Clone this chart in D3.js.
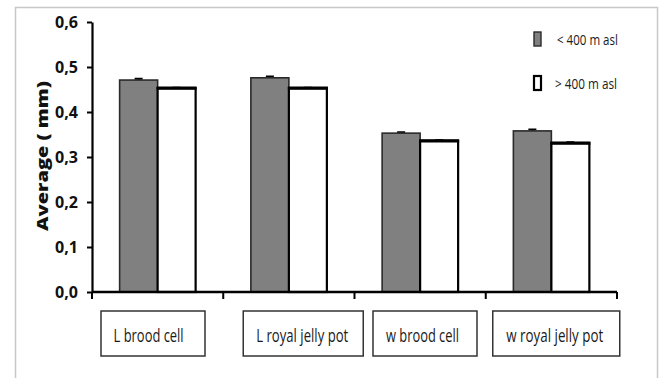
<!DOCTYPE html>
<html>
<head>
<meta charset="utf-8">
<script src="https://cdn.jsdelivr.net/npm/d3@7"></script>
<style>
  html, body { margin: 0; padding: 0; background: #fff; }
  svg { display: block; }
</style>
</head>
<body>
<div id="chart"></div>
<script>
// Cell measurements by altitude group
const categories = ["L brood cell", "L royal jelly pot", "w brood cell", "w royal jelly pot"];
const seriesNames = ["< 400 m asl", "> 400 m asl"];
const lowValues  = [0.471, 0.476, 0.353, 0.358];
const highValues = [0.453, 0.453, 0.336, 0.331];
const lowErrors  = [0.003, 0.003, 0.002, 0.003];
const highErrors = [0.001, 0.001, 0.001, 0.002];
const yTicks = [0, 0.1, 0.2, 0.3, 0.4, 0.5, 0.6];
const yTitle = "Average ( mm)";

const W = 661, H = 378;
const svg = d3.select("#chart").append("svg").attr("width", W).attr("height", H);

// squeeze a text node horizontally so it spans the given width
function fitWidth(sel, width, anchorX) {
  sel.each(function (d, i) {
    const t = d3.select(this);
    const w = typeof width === "function" ? width(d, i) : width;
    const ax = typeof anchorX === "function" ? anchorX(d, i) : anchorX;
    const natural = this.getComputedTextLength();
    const k = w / natural;
    const prev = t.attr("transform") || "";
    t.attr("transform", `${prev} translate(${ax},0) scale(${k},1) translate(${-ax},0)`);
  });
}

// outer frame
svg.append("rect").attr("x", 15.5).attr("y", 7.5).attr("width", 642).attr("height", 400)
  .attr("fill", "#fff").attr("stroke", "#c8c8c8").attr("stroke-width", 1.5);

const x0 = d3.scaleBand().domain(categories).range([92, 617]).paddingInner(0).paddingOuter(0);
const x1 = d3.scaleBand().domain(seriesNames).range([0, x0.bandwidth()]).paddingInner(0).paddingOuter(0.727);
const y = d3.scaleLinear().domain([0, 0.6]).range([292, 22]);

const rows = categories.map((c, i) => ({
  cat: c,
  vals: [
    { s: seriesNames[0], v: lowValues[i], e: lowErrors[i] },
    { s: seriesNames[1], v: highValues[i], e: highErrors[i] }
  ]
}));

const fills = { [seriesNames[0]]: "#808080", [seriesNames[1]]: "#ffffff" };
const strokes = { [seriesNames[0]]: "#2a2a2a", [seriesNames[1]]: "#000" };
const sw = { [seriesNames[0]]: 1.6, [seriesNames[1]]: 2.2 };

const groups = svg.append("g").selectAll("g").data(rows).join("g")
  .attr("transform", d => `translate(${x0(d.cat)},0)`);

// error caps
groups.selectAll("path.err").data(d => d.vals).join("path")
  .attr("class", "err")
  .attr("d", d => {
    const cx = x1(d.s) + x1.bandwidth() / 2;
    const yt = y(d.v + d.e);
    return `M${cx},${y(d.v)}V${yt}M${cx - 4},${yt}H${cx + 4}`;
  })
  .attr("stroke", "#000").attr("stroke-width", 2).attr("fill", "none");

groups.selectAll("rect").data(d => d.vals).join("rect")
  .attr("x", d => x1(d.s))
  .attr("y", d => y(d.v))
  .attr("width", x1.bandwidth())
  .attr("height", d => y(0) - y(d.v))
  .attr("fill", d => fills[d.s])
  .attr("stroke", d => strokes[d.s])
  .attr("stroke-width", d => sw[d.s]);

// thicker top edge on the open bars
groups.selectAll("line.top").data(d => d.vals.filter(v => v.s === seriesNames[1])).join("line")
  .attr("class", "top")
  .attr("x1", d => x1(d.s) - 1).attr("x2", d => x1(d.s) + x1.bandwidth() + 1)
  .attr("y1", d => y(d.v)).attr("y2", d => y(d.v))
  .attr("stroke", "#000").attr("stroke-width", 3.2);

// y axis
const yAxis = d3.axisLeft(y).tickValues(yTicks).tickSize(5).tickSizeOuter(0)
  .tickFormat(d => d3.format(".1f")(d).replace(".", ","));
const gy = svg.append("g").attr("transform", "translate(92,0)").call(yAxis);
gy.select(".domain").attr("stroke", "#000").attr("stroke-width", 2.2);
gy.selectAll(".tick line").attr("stroke", "#000").attr("stroke-width", 2);
gy.selectAll(".tick text")
  .attr("x", -14).attr("dy", "0.36em")
  .attr("font-family", "'Open Sans', sans-serif").attr("font-weight", 700)
  .attr("font-size", 16).attr("fill", "#111");
fitWidth(gy.selectAll(".tick text"), 23, -14);

// x axis with dividers between categories
const xEdges = categories.map(c => x0(c)).concat([x0.range()[1]]);
svg.append("line").attr("x1", 92).attr("x2", 617).attr("y1", y(0)).attr("y2", y(0))
  .attr("stroke", "#000").attr("stroke-width", 2.6);
svg.append("g").selectAll("line").data(xEdges).join("line")
  .attr("x1", d => d).attr("x2", d => d).attr("y1", y(0)).attr("y2", y(0) + 7)
  .attr("stroke", "#000").attr("stroke-width", 2);

// category label boxes
const boxLayout = [
  { left: 9, width: 104, tc: 56.6, tw: 70 },
  { left: 20, width: 120, tc: 79, tw: 92 },
  { left: 18.5, width: 104, tc: 68, tw: 73 },
  { left: 7, width: 127, tc: 69, tw: 97 }
];
const lab = svg.append("g").selectAll("g").data(categories).join("g")
  .attr("transform", d => `translate(${x0(d)},0)`);
lab.append("rect")
  .attr("x", (d, i) => boxLayout[i].left).attr("y", 311)
  .attr("width", (d, i) => boxLayout[i].width).attr("height", 45)
  .attr("fill", "#fff").attr("stroke", "#333").attr("stroke-width", 1.5);
const labText = lab.append("text")
  .attr("x", (d, i) => boxLayout[i].tc).attr("y", 342)
  .attr("text-anchor", "middle")
  .attr("font-family", "'Open Sans', sans-serif")
  .attr("font-size", 18).attr("fill", "#1a1a1a")
  .text(d => d);
fitWidth(labText, (d, i) => boxLayout[i].tw, (d, i) => boxLayout[i].tc);

// legend
const legend = svg.append("g");
const legRows = [
  { s: seriesNames[0], y: 32, tx: 557, tw: 61 },
  { s: seriesNames[1], y: 76, tx: 555, tw: 62 }
];
legend.selectAll("rect").data(legRows).join("rect")
  .attr("x", 534).attr("y", d => d.y).attr("width", 7).attr("height", 14)
  .attr("fill", d => fills[d.s]).attr("stroke", d => strokes[d.s])
  .attr("stroke-width", d => d.s === seriesNames[1] ? 2.2 : 1.4);
const legText = legend.selectAll("text").data(legRows).join("text")
  .attr("x", d => d.tx).attr("y", d => d.y + 13)
  .attr("font-family", "'Open Sans', sans-serif")
  .attr("font-size", 15).attr("fill", "#1a1a1a")
  .text(d => d.s);
fitWidth(legText, d => d.tw, d => d.tx);

// y axis title
const title = svg.append("text")
  .attr("transform", "translate(48,156) rotate(-90)")
  .attr("text-anchor", "middle")
  .attr("font-family", "'Open Sans', sans-serif").attr("font-weight", 800)
  .attr("font-size", 16).attr("fill", "#111")
  .text(yTitle);
fitWidth(title, 150, 0);
</script>
</body>
</html>
